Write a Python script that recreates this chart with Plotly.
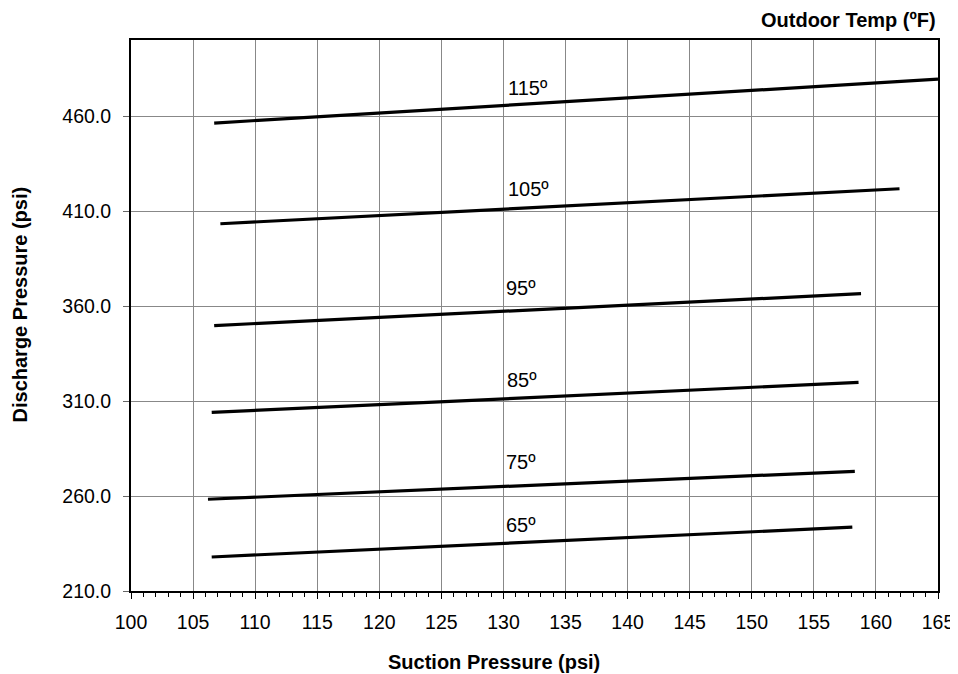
import plotly.graph_objects as go

temps = ["65º", "75º", "85º", "95º", "105º", "115º"]
suction_start = [106.5, 106.2, 106.5, 106.7, 107.2, 106.7]
suction_end = [158.1, 158.3, 158.6, 158.8, 161.9, 165.0]
discharge_start = [227.9, 258.3, 304.0, 349.7, 403.3, 456.3]
discharge_end = [243.6, 273.0, 319.8, 366.5, 421.7, 479.4]
label_x = [131.4, 131.4, 131.5, 131.4, 132.0, 132.0]
label_y = [244.7, 277.8, 321.3, 369.7, 421.7, 474.7]

font = "Liberation Sans, Arial, sans-serif"

fig = go.Figure()
for i, t in enumerate(temps):
    fig.add_trace(go.Scatter(
        x=[suction_start[i], suction_end[i]],
        y=[discharge_start[i], discharge_end[i]],
        mode="lines",
        line=dict(color="black", width=3.2),
        showlegend=False,
        hoverinfo="skip",
    ))
    fig.add_annotation(x=label_x[i], y=label_y[i], text=t, showarrow=False,
                       font=dict(size=20, color="black", family=font))

# axis titles and header as annotations so they sit where the original has them
fig.add_annotation(text="<b>Outdoor Temp (ºF)</b>", xref="paper", yref="paper",
                   x=1.0, y=1.0, xanchor="right", yanchor="middle", yshift=20,
                   showarrow=False, font=dict(size=20, color="black", family=font))
fig.add_annotation(text="<b>Suction Pressure (psi)</b>", xref="paper", yref="paper",
                   x=0.45, y=0, xanchor="center", yanchor="middle", yshift=-71,
                   showarrow=False, font=dict(size=20, color="black", family=font))
fig.add_annotation(text="<b>Discharge Pressure (psi)</b>", xref="paper", yref="paper",
                   x=0, y=0.52, xanchor="center", yanchor="middle", xshift=-111,
                   textangle=-90, showarrow=False,
                   font=dict(size=20, color="black", family=font))

fig.update_layout(
    width=958, height=674,
    margin=dict(l=123, r=28, t=32, b=91),
    plot_bgcolor="white", paper_bgcolor="white",
    font=dict(family=font, size=19, color="black"),
    xaxis=dict(
        range=[100, 165], tick0=100, dtick=5,
        showgrid=True, gridcolor="#888", gridwidth=1,
        showline=True, linecolor="black", linewidth=2, mirror=True,
        ticks="outside", ticklen=6, tickcolor="black", tickwidth=1,
        minor=dict(dtick=1, ticks="outside", ticklen=4, tickcolor="black", showgrid=False),
        zeroline=False, automargin=False,
        ticklabelstandoff=7,
        tickfont=dict(size=19.5),
    ),
    yaxis=dict(
        range=[210, 500], tick0=210, dtick=50, tickformat=".1f",
        showgrid=True, gridcolor="#888", gridwidth=1,
        showline=True, linecolor="black", linewidth=2, mirror=True,
        ticks="outside", ticklen=6, tickcolor="#666", tickwidth=1,
        zeroline=False, automargin=False,
        ticklabelstandoff=8,
        tickfont=dict(size=19.5),
    ),
)

fig.write_html("out.html")
